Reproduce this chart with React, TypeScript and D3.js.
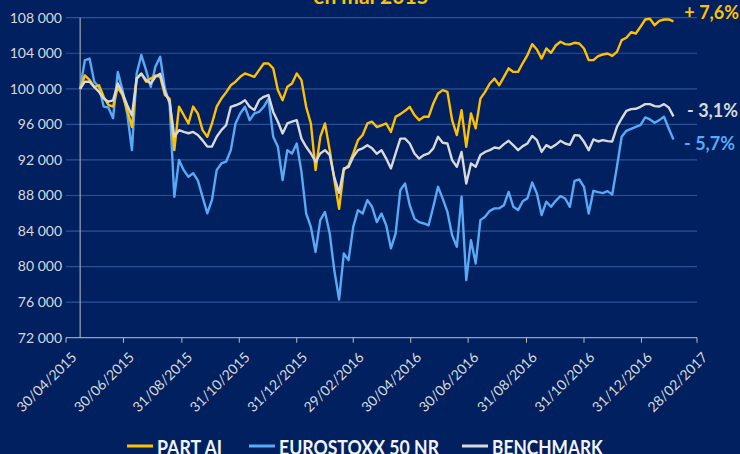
import React, { useRef, useEffect } from "react";
import * as d3 from "d3";

// Data: one point every 5 days from the first valuation date
const startDate = "2015-05-15";
const stepDays = 5;

const partAI = [
  100000, 101500, 101000, 100200, 100400, 99100, 98200, 98000, 100200, 99300,
  97600, 95700, 101150, 101700, 100800, 101150, 101500, 101350, 99300, 98900,
  93100, 98000, 97050, 96100, 98000, 97200, 95350, 94600, 96100, 98000,
  98900, 99600, 100400, 100800, 101350, 101725, 101550, 101350, 102100, 102850,
  102850, 102300, 99850, 98725, 100225, 100600, 101725, 100975, 97975, 96100,
  90850, 94600, 96100, 93100, 89700, 86500, 90850, 91400, 92725, 94225,
  94800, 96100, 96300, 95700, 95900, 96100, 95150, 96850, 97150, 97525,
  97975, 97050, 96475, 96850, 96850, 98350, 99475, 99850, 99650, 96475,
  94800, 97600, 93475, 97225, 95550, 98900, 99650, 100600, 101150, 100400,
  101350, 102300, 101900, 101900, 102900, 103800, 105025, 104425, 103400, 104540,
  104050, 104875, 105300, 105025, 104990, 105175, 105100, 104540, 103225, 103225,
  103675, 103860, 103975, 103700, 104160, 105475, 105740, 106375, 106225, 106975,
  107800, 107875, 107160, 107650, 107800, 107800, 107600,
];

const eurostoxx = [
  100000, 103200, 103400, 100800, 100200, 98000, 97900, 96700, 101900, 99850,
  97200, 93100, 101700, 103800, 102100, 100200, 102500, 103600, 100050, 98350,
  87850, 92000, 90850, 90100, 90500, 89700, 87850, 86000, 87500, 90850,
  91600, 91800, 93100, 96100, 97225, 97975, 96475, 97225, 97400, 97975,
  98900, 94600, 93475, 89725, 93100, 92725, 93850, 90650, 85975, 84475,
  81650, 85225, 86150, 83725, 79500, 76300, 81475, 80725, 84475, 86350,
  85975, 87475, 86725, 85000, 85975, 84650, 82050, 83725, 88600, 89350,
  86900, 85400, 85000, 84850, 84650, 86725, 88975, 87650, 86150, 83525,
  82225, 87850, 78475, 82975, 80350, 85225, 85600, 86275, 86550, 86550,
  86900, 88400, 86725, 86350, 87350, 87700, 89460, 88225, 85800, 87300,
  86725, 87400, 87925, 87660, 86725, 89650, 89800, 88975, 85975, 88525,
  88375, 88260, 88490, 88110, 91225, 94600, 95275, 95500, 95725, 95910,
  96775, 96550, 96175, 96475, 96850, 95540, 94300,
];

const benchmark = [
  100000, 100800, 100800, 100200, 99650, 98900, 98550, 98700, 100600, 99500,
  98150, 97000, 101150, 101700, 101000, 100600, 101350, 101700, 99650, 98550,
  94600, 95350, 95150, 95000, 95150, 94800, 94200, 93500, 93500, 94600,
  95350, 95900, 97975, 98150, 98350, 98725, 97975, 97600, 98725, 99100,
  99300, 97400, 96300, 94975, 96100, 96300, 96475, 94400, 93475, 92725,
  91800, 92725, 93100, 92550, 90000, 88300, 91050, 91200, 92350, 93100,
  93300, 93650, 93300, 92700, 93100, 92150, 91050, 92725, 94400, 94400,
  93850, 92725, 92150, 92550, 92725, 93300, 94600, 93925, 93850, 91975,
  91225, 92900, 89350, 91600, 91225, 92550, 92900, 93100, 93400, 93300,
  93775, 94150, 93650, 93100, 93550, 93850, 94700, 94225, 92900, 93660,
  93360, 93700, 94150, 93850, 93700, 94790, 94750, 94040, 93100, 94300,
  94075, 94225, 94110, 94075, 95725, 96660, 97525, 97710, 97750, 97975,
  98275, 98275, 98050, 98010, 98275, 97900, 96900,
];

const seriesNames = ["PART AI", "EUROSTOXX 50 NR", "BENCHMARK"];
const endLabels = ["+ 7,6%", "- 5,7%", "- 3,1%"];
const tickLabels = [
  "30/04/2015", "30/06/2015", "31/08/2015", "31/10/2015", "31/12/2015", "29/02/2016",
  "30/04/2016", "30/06/2016", "31/08/2016", "31/10/2016", "31/12/2016", "28/02/2017",
];
const yTicks = [72000, 76000, 80000, 84000, 88000, 92000, 96000, 100000, 104000, 108000];

const colors = ["#FFC000", "#5AA9F4", "#D9D9D9"];
const bg = "#002060";
const font = "Lato, 'Open Sans', sans-serif";

const App: React.FC = () => {
  const svgRef = useRef<SVGSVGElement | null>(null);

  useEffect(() => {
    document.body.style.margin = "0";
    if (!svgRef.current) return;
    const width = 740;
    const height = 454;

    const parseTick = d3.timeParse("%d/%m/%Y");
    const tickDates = tickLabels.map((t) => parseTick(t)!);
    const start = d3.timeParse("%Y-%m-%d")(startDate)!;

    const x = d3
      .scaleTime()
      .domain([tickDates[0], tickDates[tickDates.length - 1]])
      .range([66, 697]);
    const y = d3.scaleLinear().domain([72000, 108000]).range([337.7, 17.7]);

    const fmt = d3.formatLocale({
      decimal: ",",
      thousands: " ",
      grouping: [3],
      currency: ["", " €"],
    }).format(",");

    const svg = d3.select(svgRef.current).attr("width", width).attr("height", height);
    svg.selectAll("*").remove();

    svg.append("rect").attr("width", width).attr("height", height).attr("fill", bg);

    // Title (only its lower line is in frame)
    svg
      .append("text")
      .attr("x", 371)
      .attr("y", 4)
      .attr("text-anchor", "middle")
      .attr("font-family", font)
      .attr("font-weight", "bold")
      .attr("font-size", 21)
      .attr("fill", "#FFC000")
      .text("en mai 2015");

    // Gridlines
    svg
      .append("g")
      .selectAll("line")
      .data(yTicks.slice(1))
      .enter()
      .append("line")
      .attr("x1", 66)
      .attr("x2", 697)
      .attr("y1", (d) => y(d))
      .attr("y2", (d) => y(d))
      .attr("stroke", "#2B5296")
      .attr("stroke-width", 1.2);

    // Y labels
    svg
      .append("g")
      .selectAll("text")
      .data(yTicks)
      .enter()
      .append("text")
      .attr("x", 62)
      .attr("y", (d) => y(d))
      .attr("dy", "0.35em")
      .attr("text-anchor", "end")
      .attr("font-family", font)
      .attr("font-size", 14)
      .attr("fill", "#D9D9D9")
      .text((d) => fmt(d));

    // X axis
    const xAxis = svg.append("g");
    xAxis
      .append("line")
      .attr("x1", 66)
      .attr("x2", 697)
      .attr("y1", y(72000))
      .attr("y2", y(72000))
      .attr("stroke", "#BFBFBF")
      .attr("stroke-width", 1);
    xAxis
      .selectAll(".tick")
      .data(tickDates)
      .enter()
      .append("line")
      .attr("x1", (d) => x(d))
      .attr("x2", (d) => x(d))
      .attr("y1", y(72000))
      .attr("y2", y(72000) + 5)
      .attr("stroke", "#BFBFBF");
    xAxis
      .selectAll("text")
      .data(tickDates)
      .enter()
      .append("text")
      .attr("transform", (d) => `translate(${x(d) + 8},${y(72000) + 17}) rotate(-45)`)
      .attr("text-anchor", "end")
      .attr("dy", "0.35em")
      .attr("font-family", font)
      .attr("font-size", 14)
      .attr("fill", "#D9D9D9")
      .text((_d, i) => tickLabels[i]);

    // Value axis line at first valuation date
    svg
      .append("line")
      .attr("x1", x(start))
      .attr("x2", x(start))
      .attr("y1", y(108000))
      .attr("y2", y(72000))
      .attr("stroke", "#BFBFBF")
      .attr("stroke-width", 1);

    // Series
    const all = [partAI, eurostoxx, benchmark];
    const line = d3
      .line<number>()
      .x((_d, i) => x(d3.timeDay.offset(start, i * stepDays)))
      .y((d) => y(d));
    const drawOrder = [1, 0, 2];
    svg
      .append("g")
      .selectAll("path")
      .data(drawOrder)
      .enter()
      .append("path")
      .attr("d", (k) => line(all[k]))
      .attr("fill", "none")
      .attr("stroke", (k) => colors[k])
      .attr("stroke-width", 2.4)
      .attr("stroke-linejoin", "round");

    // End labels
    const labelDy = [-2, 11, 1];
    const labelX = [739, 735, 738];
    svg
      .append("g")
      .selectAll("text")
      .data(all)
      .enter()
      .append("text")
      .attr("x", (_d, i) => labelX[i])
      .attr("y", (d, i) => y(d[d.length - 1]) + labelDy[i])
      .attr("text-anchor", "end")
      .attr("font-family", font)
      .attr("font-weight", "bold")
      .attr("font-size", 18)
      .attr("fill", (_d, i) => colors[i])
      .text((_d, i) => endLabels[i]);

    // Legend
    const legendX = [127, 249, 462];
    const legendW = [65, 160, 111];
    const legend = svg
      .append("g")
      .selectAll("g")
      .data(seriesNames)
      .enter()
      .append("g")
      .attr("transform", (_d, i) => `translate(${legendX[i]},446)`);
    legend
      .append("line")
      .attr("x1", 0)
      .attr("x2", 26)
      .attr("stroke", (_d, i) => colors[i])
      .attr("stroke-width", 3);
    legend
      .append("text")
      .attr("x", 30)
      .attr("y", 9)
      .attr("font-family", font)
      .attr("font-weight", "bold")
      .attr("font-size", 20)
      .attr("textLength", (_d, i) => legendW[i])
      .attr("lengthAdjust", "spacingAndGlyphs")
      .attr("fill", "#F2F2F2")
      .text((d) => d);

    return () => {
      svg.selectAll("*").remove();
    };
  }, []);

  return <svg ref={svgRef} style={{ display: "block" }} />;
};

export default App;
